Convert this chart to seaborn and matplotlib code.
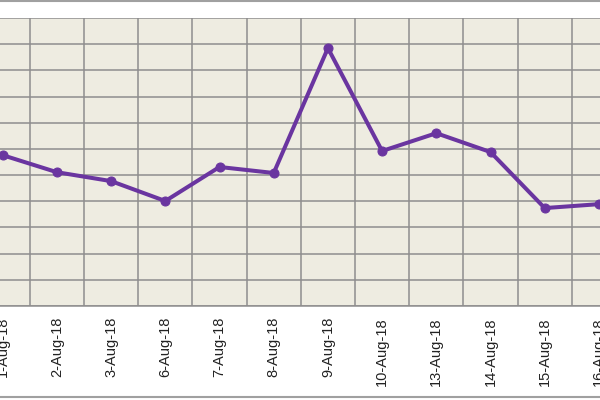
import matplotlib
matplotlib.use("Agg")
import matplotlib.pyplot as plt
from matplotlib.lines import Line2D
import numpy as np
import pandas as pd
import seaborn as sns

DATES = [
    "1-Aug-18", "2-Aug-18", "3-Aug-18", "6-Aug-18", "7-Aug-18", "8-Aug-18",
    "9-Aug-18", "10-Aug-18", "13-Aug-18", "14-Aug-18", "15-Aug-18", "16-Aug-18",
]
VALUES = [5.76, 5.11, 4.77, 4.01, 5.31, 5.08, 9.85, 5.92, 6.60, 5.88, 3.74, 3.89]

LINE_COLOR = "#6a35a0"
PLOT_BG = "#eeece1"
GRID_COLOR = "#8e8e8e"

df = pd.DataFrame({"date": DATES, "value": VALUES})

sns.set_theme(style="white")
plt.rcParams["font.family"] = ["Liberation Sans", "DejaVu Sans"]

fig = plt.figure(figsize=(6, 4), dpi=100)
fig.patch.set_facecolor("white")
ax = fig.add_axes([0, 0.235, 1, 0.72])
ax.set_facecolor(PLOT_BG)

sns.lineplot(data=df, x="date", y="value", ax=ax, color=LINE_COLOR,
             linewidth=2.9, marker="o", markersize=6.5,
             markeredgecolor=LINE_COLOR, sort=False, clip_on=False)

n = len(DATES)
ax.set_yticks(np.arange(0, 12))
ax.set_xticks(np.arange(n) + 0.5, minor=True)
ax.set_xticks(np.arange(n))
ax.set_xticklabels(DATES, rotation=90, fontsize=10.5, color="#222222")
# limits after ticks, so the minor ticks don't widen the view
ax.set_xlim(-0.05, n - 1 + 0.02)
ax.set_ylim(0, 11)
ax.tick_params(axis="x", which="both", length=0, pad=8)
ax.tick_params(axis="y", which="both", length=0, labelleft=False)
ax.grid(False)
ax.yaxis.grid(True, which="major", color=GRID_COLOR, linewidth=1.1)
ax.xaxis.grid(True, which="minor", color=GRID_COLOR, linewidth=1.1)
ax.set_axisbelow(True)
for side in ["top", "right", "left"]:
    ax.spines[side].set_visible(False)
ax.spines["bottom"].set_color(GRID_COLOR)
ax.spines["bottom"].set_linewidth(1.1)
ax.set_xlabel("")
ax.set_ylabel("")

# chart area border (cropped)
fig.add_artist(Line2D([0, 1], [0.997, 0.997], transform=fig.transFigure, color="#a0a0a0", linewidth=1.5))
fig.add_artist(Line2D([0, 1], [0.007, 0.007], transform=fig.transFigure, color="#a0a0a0", linewidth=1.5))

fig.savefig("out.png", dpi=100)
